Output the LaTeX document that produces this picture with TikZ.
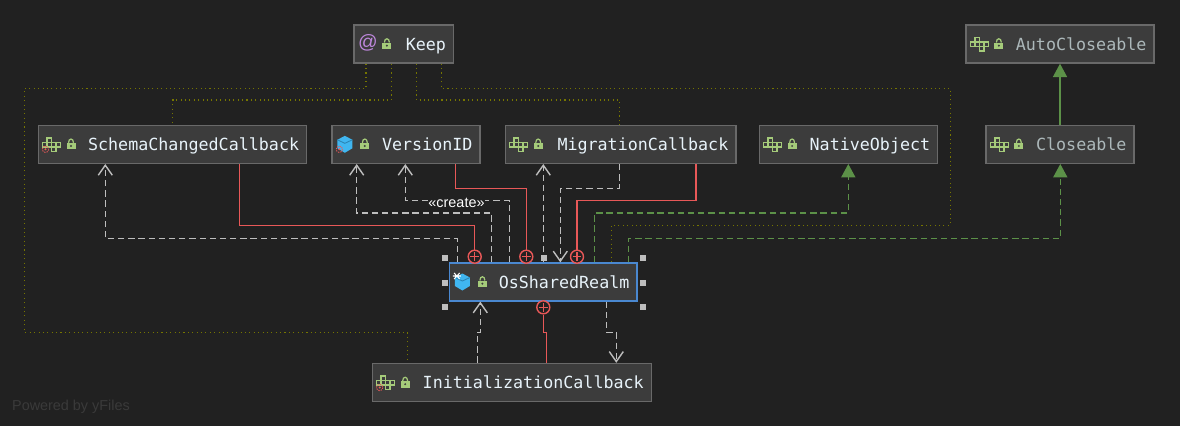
\documentclass[tikz,border=0pt]{standalone}
\usepackage{fontspec}
\setmainfont{Liberation Sans}
\setmonofont{DejaVu Sans Mono}
\usetikzlibrary{arrows.meta,positioning,calc}
\definecolor{bgdark}{RGB}{33,33,33}
\definecolor{boxfill}{RGB}{60,60,60}
\definecolor{boxline}{RGB}{105,105,105}
\definecolor{labelwhite}{RGB}{232,243,250}
\definecolor{labelgray}{RGB}{172,184,186}
\definecolor{depgray}{RGB}{190,190,190}
\definecolor{assocred}{RGB}{232,88,88}
\definecolor{implgreen}{RGB}{92,145,72}
\definecolor{keepolive}{RGB}{118,118,0}
\definecolor{selblue}{RGB}{74,136,208}
\definecolor{icongreen}{RGB}{165,203,122}
\definecolor{cubeblue}{RGB}{64,182,240}
\definecolor{cubedark}{RGB}{42,132,180}
\definecolor{atpurple}{RGB}{190,135,220}
\definecolor{handlegray}{RGB}{190,190,190}
\definecolor{yfilesgray}{RGB}{58,58,58}

\begin{document}
\begin{tikzpicture}[
  x=0.02cm, y=-0.02cm,
  cls/.style={rectangle, draw=boxline, fill=boxfill, line width=0.8pt, text=labelwhite,
              font=\ttfamily\fontsize{9.5}{11}\selectfont, text width=#1, align=right,
              inner xsep=4.25pt, inner ysep=0pt, minimum height=0.76cm,
              text height=8.9pt, text depth=2pt},
  dimcls/.style={cls=#1, text=labelgray},
  selcls/.style={cls=#1, draw=selblue, line width=0.7pt},
  dep/.style={depgray, line width=0.8pt, dash pattern=on 3.6pt off 2.2pt,
              -{Straight Barb[length=5.7pt,width=8pt]}},
  assoc/.style={assocred, line width=0.8pt},
  impl/.style={implgreen, line width=0.8pt, dash pattern=on 3.6pt off 2.2pt,
               -{Triangle[length=7.6pt,width=8pt]}},
  extend/.style={implgreen, line width=0.8pt, -{Triangle[length=7.6pt,width=8pt]}},
  keepline/.style={keepolive, line width=0.6pt, dash pattern=on 0.6pt off 1.9pt},
  inner/.style={circle, draw=assocred, fill=bgdark, line width=0.8pt, minimum size=0.26cm, inner sep=0pt,
                path picture={\draw[assocred, line width=0.7pt]
                  (path picture bounding box.north) ++(0,-1.2pt) -- ++(0,-5pt)
                  (path picture bounding box.west) ++(1.2pt,0) -- ++(5pt,0);}},
  handle/.style={rectangle, fill=handlegray, minimum size=0.12cm, inner sep=0pt},
  ifaceicon/.pic={
    \foreach \cx/\cy in {9.5/-6.5, 5/-2, 9.5/-2, 14/-2, 18.5/-2, 14/2.5}
      \draw[icongreen, line width=0.85pt] (\cx,\cy) rectangle ++(4.5,4.5);
  },
  cubeicon/.pic={
    \fill[cubeblue] (13.5,-8.5) -- (21,-4.5) -- (21,4) -- (13.5,8.5) -- (6,4) -- (6,-4.5) -- cycle;
    \draw[cubedark, line width=0.5pt] (6,-4.5) -- (13.5,-1) -- (21,-4.5);
  },
  lockicon/.pic={
    \draw[icongreen, line width=0.7pt] (31,-1.5) .. controls (31,-6.5) and (36,-6.5) .. (36,-1.5);
    \fill[icongreen] (29,-1.5) rectangle (38,5);
    \fill[boxfill] (33.5,1.7) circle (1.1);
  },
  innermark/.pic={
    \draw[assocred, line width=0.5pt, dash pattern=on 0.8pt off 0.6pt] (8,5) circle (3.2);
    \fill[assocred] (8,5) circle (1.1);
  },
  staticmark/.pic={
    \draw[white, line width=0.6pt] (4,-6) -- (12,-6) (5.2,-9) -- (10.8,-3) (5.2,-3) -- (10.8,-9);
  }
]
\fill[bgdark] (0,0) rectangle (1180,426);

% Top row
\node[cls=1.69cm]      (keep) at (403.8,44)    {Keep};
\node[dimcls=3.46cm]   (auto) at (1060,44)     {AutoCloseable};

% Middle row
\node[cls=5.07cm]      (schema) at (172.4,144.3)    {SchemaChangedCallback};
\node[cls=2.66cm]      (version) at (406,144.3)     {VersionID};
\node[cls=4.31cm]      (migration) at (620.6,144.3) {MigrationCallback};
\node[cls=3.27cm]      (native) at (848.5,144.3)    {NativeObject};
\node[dimcls=2.66cm]   (closeable) at (1060,144.3)  {Closeable};

% Selected class and the one below it
\node[selcls=3.45cm]   (realm) at (543.2,282)  {OsSharedRealm};
\node[cls=5.28cm]      (init) at (511.8,382.5) {InitializationCallback};

% Icons
\foreach \n in {schema,migration,native,closeable,auto,init}
  \pic at (\n.west) {ifaceicon};
\foreach \n in {keep,schema,version,migration,native,closeable,auto,realm,init}
  \pic at (\n.west) {lockicon};
\foreach \n in {version,realm}
  \pic at (\n.west) {cubeicon};
\foreach \n in {schema,version,init}
  \pic at (\n.west) {innermark};
\pic at (realm.west) {staticmark};
\node[text=atpurple, font=\fontsize{11}{12}\selectfont, inner sep=0pt] (keepat) at ($(keep.west)+(14.5,-1)$) {@};

% Annotation lines from Keep
\draw[keepline] (366,0 |- keep.south) |- (24.7,88.3) |- (407.3,332.3) -- (407.3,0 |- init.north);
\draw[keepline] (391.3,0 |- keep.south) |- (172.7,100) -- (172.7,0 |- schema.north);
\draw[keepline] (416.3,0 |- keep.south) |- (619.3,100) -- (619.3,0 |- migration.north);
\draw[keepline] (441.3,0 |- keep.south) |- (950.3,88.3) |- (611.3,225.3) -- (611.3,0 |- realm.north);

% Dependencies
\draw[dep] (457.3,0 |- realm.north) |- (105.3,238.7) -- (105.3,0 |- schema.south);
\draw[dep] (491.7,0 |- realm.north) |- (356.7,213) -- (356.7,0 |- version.south);
\draw[dep] (509.3,0 |- realm.north) |- (405.3,200.7) -- (405.3,0 |- version.south);
\draw[dep] (543.3,0 |- realm.north) -- (543.3,0 |- migration.south);
\draw[dep] (619.3,0 |- migration.south) |- (560.3,188.3) -- (560.3,0 |- realm.north);
\draw[dep] (477.3,0 |- init.north) |- (480.3,332.3) -- (480.3,0 |- realm.south);
\draw[dep] (606.3,0 |- realm.south) |- (616.3,332.3) -- (616.3,0 |- init.north);
\node[fill=bgdark, text=white, font=\fontsize{8.2}{9}\selectfont, inner xsep=0.5pt, inner ysep=0pt] (create) at (456.5,203) {«create»};

% Inner class links
\node[inner] (plus1) at (474.7,256.7) {};
\node[inner] (plus2) at (526.3,256.7) {};
\node[inner] (plus3) at (577,256.7) {};
\node[inner] (plus4) at (543.3,307.3) {};
\draw[assoc] (239.3,0 |- schema.south) |- (474.7,225.3) -- (plus1);
\draw[assoc] (455.3,0 |- version.south) |- (526.3,188.3) -- (plus2);
\draw[assoc] (696,0 |- migration.south) |- (577,200.7) -- (plus3);
\draw[assoc] (546.3,0 |- init.north) |- (543.3,332.3) -- (plus4);

% Implements
\draw[impl] (594.7,0 |- realm.north) |- (848.3,213) -- (848.3,0 |- native.south);
\draw[impl] (628.3,0 |- realm.north) |- (1060.3,238.7) -- (1060.3,0 |- closeable.south);
\draw[extend] (closeable) -- (auto);

% Selection handles
\foreach \n/\x/\y in {a/444.7/258.3, b/544/258.3, c/643/258.3, d/444.7/282.5, e/643/282.5, f/444.7/306.7, g/643/306.7}
  \node[handle] (handle\n) at (\x,\y) {};

\node[text=yfilesgray, font=\fontsize{8.2}{10}\selectfont, inner sep=0pt] (powered) at (71,407) {Powered by yFiles};
\end{tikzpicture}
\end{document}
